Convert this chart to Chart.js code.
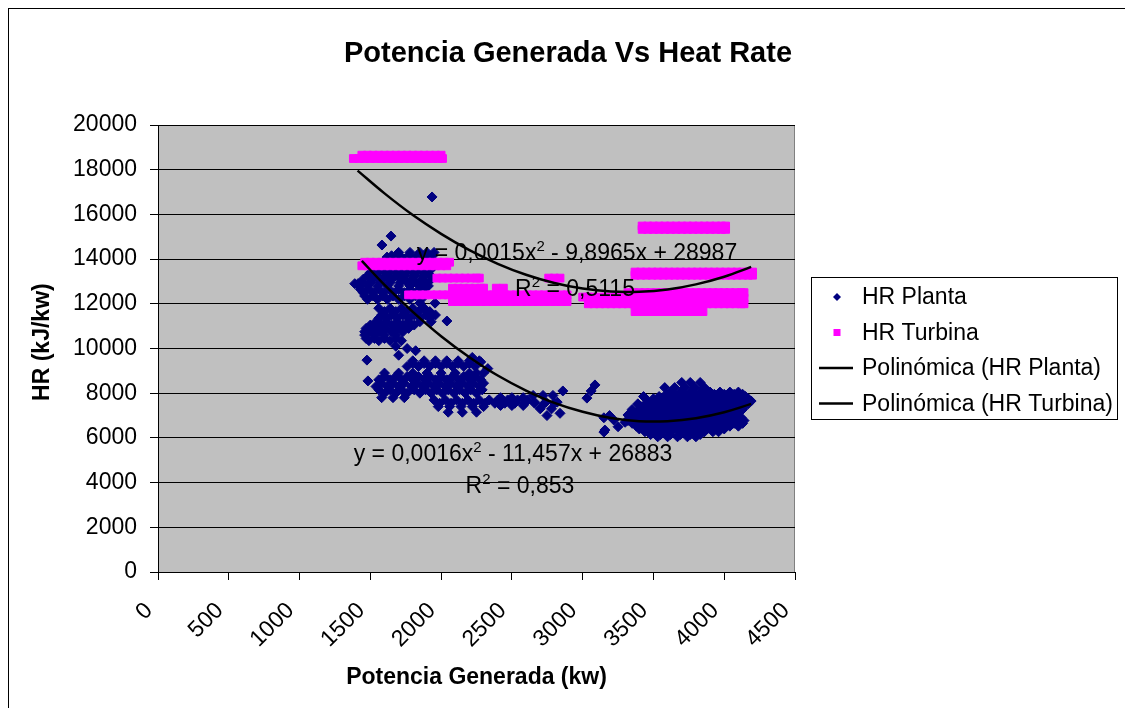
<!DOCTYPE html>
<html>
<head>
<meta charset="utf-8">
<title>Potencia Generada Vs Heat Rate</title>
<script src="https://cdn.jsdelivr.net/npm/chart.js@4.4.0/dist/chart.umd.min.js"></script>
<style>
  body { margin: 0; background: #fff; }
  #wrap { width: 1125px; height: 708px; }
</style>
</head>
<body>
<div id="wrap"><canvas id="myChart" width="1125" height="708"></canvas></div>
<script>
// HR Planta: rows of [HR (kJ/kw), [potencia (kw) ...]]
var plantaRows = [
  [16780, [1936]],
  [15030, [1646]],
  [14630, [1582]],
  [14300, [1700, 1780, 1850, 1900, 1950]],
  [14150, [1650, 1710, 1770, 1830, 1890, 1940]],
  [14090, [1618]],
  [14000, [1620, 1680, 1740, 1800, 1860, 1920]],
  [13850, [1590, 1650, 1720, 1790, 1850, 1920]],
  [13700, [1560, 1620, 1690, 1750, 1820, 1890, 1950]],
  [13550, [1530, 1590, 1660, 1730, 1790, 1860, 1930]],
  [13400, [1500, 1560, 1630, 1700, 1760, 1830, 1900]],
  [13290, [1921]],
  [13250, [1480, 1540, 1610, 1680, 1740, 1810, 1880]],
  [13100, [1450, 1520, 1590, 1650, 1720, 1790, 1860, 1930]],
  [12950, [1440, 1500, 1570, 1640, 1710, 1760, 1820, 1890]],
  [12900, [1390, 1413]],
  [12800, [1420, 1480, 1550, 1620, 1700, 1780, 1850, 1910]],
  [12650, [1430, 1490, 1560, 1630, 1700, 1780, 1860]],
  [12500, [1450, 1520, 1590, 1660, 1740, 1820, 1890]],
  [12350, [1460, 1520, 1590, 1660, 1740, 1820]],
  [12200, [1480, 1550, 1620, 1700, 1780, 1860]],
  [12030, [1850, 1957]],
  [11800, [1560, 1640, 1720, 1800, 1880]],
  [11650, [1600, 1680, 1760, 1840, 1920]],
  [11500, [1580, 1650, 1730, 1810, 1890, 1960]],
  [11350, [1560, 1620, 1690, 1770, 1850, 1920]],
  [11230, [2041]],
  [11200, [1540, 1610, 1690, 1770, 1850, 1930]],
  [11050, [1500, 1580, 1650, 1730, 1810]],
  [10900, [1470, 1540, 1610, 1690, 1770]],
  [10750, [1460, 1500, 1570, 1650, 1730]],
  [10600, [1460, 1530, 1600, 1680]],
  [10450, [1470, 1530, 1600, 1680]],
  [10350, [1490, 1560, 1640, 1720]],
  [10100, [1680]],
  [10000, [1760]],
  [9900, [1820]],
  [9700, [1700]],
  [9600, [2220]],
  [9480, [1476]],
  [9450, [1800, 1880, 1960, 2040, 2120, 2200, 2270]],
  [9400, [2280]],
  [9330, [1800, 1880, 1960, 2040, 2120, 2200]],
  [9200, [1760, 1840, 1920, 2000, 2080, 2160, 2240]],
  [9100, [2330]],
  [8900, [1600, 1700, 1800, 1900, 2000, 2100, 2200, 2250, 2300]],
  [8750, [1600, 1680, 1760, 1840, 1920, 2000, 2080, 2160, 2240]],
  [8600, [1560, 1640, 1720, 1800, 1880, 1960, 2040, 2120, 2200, 2280]],
  [8550, [1483]],
  [8450, [1580, 1660, 1740, 1830, 1910, 1990, 2070, 2150, 2230, 2300]],
  [8370, [3087]],
  [8300, [1540, 1620, 1700, 1790, 1870, 1950, 2030, 2110, 2190, 2270]],
  [8150, [1560, 1640, 1720, 1810, 1890, 1970, 2050, 2130, 2210, 2290]],
  [8100, [2860, 3060]],
  [8000, [1600, 1680, 1760, 1850, 1930, 2010, 2090, 2170, 2250]],
  [7900, [2650, 2720, 2790]],
  [7800, [1580, 1660, 1740, 2420, 2500, 2580]],
  [7780, [3030]],
  [7700, [1950, 2030, 2110, 2190, 2270, 2340, 2400, 2470, 2540, 2610]],
  [7600, [2660, 2740, 2820]],
  [7550, [1990, 2070, 2150, 2230, 2310, 2380, 2450, 2520, 2590, 2660, 2730, 2800]],
  [7450, [2420, 2500, 2580]],
  [7400, [1980, 2060, 2140, 2220, 2300]],
  [7300, [2700, 2780]],
  [7150, [2050, 2150, 2250]],
  [7100, [2840]],
  [7000, [2748, 3190]],
  [6900, [3150]],
  [6800, [3220]],
  [6700, [3300]],
  [6500, [3250]],
  [6350, [3157]],
  [6260, [3150]],
  [8480, [3700, 3760, 3830]],
  [8250, [3580, 3650, 3720, 3790, 3860]],
  [8050, [3620, 3690, 3760, 3830, 3900, 3970, 4040, 4100]],
  [7950, [3590, 3650, 3720, 3790, 3860, 3930, 4000, 4070, 4130]],
  [7850, [3430, 3540, 3600, 3660, 3720, 3780, 3840, 3900, 3960, 4020, 4080, 4150]],
  [7750, [3500, 3560, 3620, 3680, 3740, 3800, 3860, 3920, 3980, 4040, 4100, 4170]],
  [7650, [3460, 3520, 3580, 3640, 3700, 3760, 3820, 3880, 3940, 4000, 4060, 4120, 4190]],
  [7525, [3390, 3450, 3510, 3570, 3630, 3690, 3750, 3810, 3870, 3930, 3990, 4050, 4110, 4170]],
  [7400, [3420, 3480, 3540, 3600, 3660, 3720, 3780, 3840, 3900, 3960, 4020, 4080, 4140]],
  [7275, [3350, 3410, 3470, 3530, 3590, 3650, 3710, 3770, 3830, 3890, 3950, 4010, 4070, 4130]],
  [7150, [3380, 3440, 3500, 3560, 3620, 3680, 3740, 3800, 3860, 3920, 3980, 4040, 4100]],
  [7025, [3320, 3380, 3440, 3500, 3560, 3620, 3680, 3740, 3800, 3860, 3920, 3980, 4040, 4100]],
  [6900, [3340, 3400, 3460, 3520, 3580, 3640, 3700, 3760, 3820, 3880, 3940, 4000, 4060, 4120]],
  [6775, [3320, 3380, 3440, 3500, 3560, 3620, 3680, 3740, 3800, 3860, 3920, 3980, 4040, 4100, 4140]],
  [6650, [3350, 3410, 3470, 3530, 3590, 3650, 3710, 3770, 3830, 3890, 3950, 4010, 4070, 4130]],
  [6525, [3380, 3440, 3500, 3560, 3620, 3680, 3740, 3800, 3860, 3920, 3980, 4040, 4100]],
  [6400, [3400, 3460, 3520, 3580, 3640, 3700, 3760, 3820, 3880, 3940, 4000]],
  [6275, [3440, 3500, 3560, 3620, 3680, 3740, 3800, 3860, 3920, 3960]],
  [6150, [3480, 3550, 3620, 3690, 3760, 3830]],
  [6050, [3530, 3600, 3670, 3740, 3800]]
];

// HR Turbina: same layout
var turbinaRows = [
  [18650, [1440, 1480, 1520, 1560, 1600, 1640, 1680, 1720, 1760, 1800, 1840, 1880, 1920, 1960, 2000]],
  [18500, [1380, 1420, 1460, 1500, 1540, 1580, 1620, 1660, 1700, 1740, 1780, 1820, 1860, 1900, 1940, 1980, 2010]],
  [15480, [3420, 3460, 3500, 3540, 3580, 3620, 3660, 3700, 3740, 3780, 3820, 3860, 3900, 3940, 3980, 4010]],
  [15330, [3420, 3460, 3500, 3540, 3580, 3620, 3660, 3700, 3740, 3780, 3820, 3860, 3900, 3940, 3980, 4010]],
  [13860, [1460, 1500, 1540, 1580, 1620, 1660, 1700, 1740, 1780, 1820, 1860, 1900, 1940, 1980, 2020, 2060]],
  [13700, [1440, 1480, 1520, 1560, 1600, 1640, 1680, 1720, 1760, 1800, 1840, 1880, 1920, 1960, 2000, 2040]],
  [13420, [3370, 3410, 3450, 3490, 3530, 3570, 3610, 3650, 3690, 3730, 3770, 3810, 3850, 3890, 3930, 3970, 4010, 4050, 4090, 4130, 4170, 4200]],
  [13280, [3370, 3410, 3450, 3490, 3530, 3570, 3610, 3650, 3690, 3730, 3770, 3810, 3850, 3890, 3930, 3970, 4010, 4050, 4090, 4130, 4170, 4200]],
  [13150, [1970, 2010, 2050, 2090, 2130, 2170, 2210, 2250, 2270, 2760, 2800, 2840]],
  [12700, [2080, 2120, 2160, 2200, 2240, 2280, 2300, 2390, 2440]],
  [12500, [3320, 3360, 3400, 3440, 3480, 3520, 3560, 3600, 3640, 3680, 3720, 3760, 3800, 3840, 3880, 3920, 3960, 4000, 4040, 4080, 4120, 4140]],
  [12400, [1770, 1810, 1850, 1890, 1930, 1970, 2010, 2050, 2090, 2130, 2170, 2210, 2250, 2290, 2330, 2370, 2410, 2450, 2490, 2530, 2570, 2610, 2650, 2690, 2730, 2770, 2810, 2850, 2890]],
  [12300, [3000, 3040, 3080, 3120, 3160, 3200, 3240, 3280, 3330]],
  [12250, [3320, 3360, 3400, 3440, 3480, 3520, 3560, 3600, 3640, 3680, 3720, 3760, 3800, 3840, 3880, 3920, 3960, 4000, 4040, 4080, 4120, 4140]],
  [12100, [2080, 2120, 2160, 2200, 2240, 2280, 2320, 2370, 2410, 2450, 2490, 2530, 2570, 2610, 2650, 2690, 2730, 2770, 2810, 2850, 2890]],
  [12000, [3040, 3080, 3120, 3160, 3200, 3240, 3280, 3320, 3360, 3400, 3440, 3480, 3520, 3560, 3600, 3640, 3680, 3720, 3760, 3800, 3840, 3880, 3920, 3960, 4000, 4040, 4080, 4120, 4140]],
  [11650, [3370, 3410, 3450, 3490, 3530, 3570, 3610, 3650, 3690, 3730, 3770, 3810, 3850]]
];

// trend lines
var trendPlantaX = [1440, 1600, 1800, 2000, 2200, 2400, 2600, 2800, 3000, 3200, 3400, 3600, 3800, 4000, 4190];
var trendPlantaY = [13920, 12850, 11640, 10550, 9610, 8790, 8120, 7570, 7170, 6890, 6750, 6750, 6880, 7150, 7520];
var trendTurbinaX = [1410, 1600, 1800, 2000, 2200, 2400, 2600, 2800, 3000, 3200, 3400, 3600, 3800, 4000, 4190];
var trendTurbinaY = [17960, 16940, 15970, 15130, 14400, 13790, 13300, 12930, 12680, 12550, 12540, 12640, 12870, 13210, 13650];

var xTicks = [0, 500, 1000, 1500, 2000, 2500, 3000, 3500, 4000, 4500];
var yTicks = [0, 2000, 4000, 6000, 8000, 10000, 12000, 14000, 16000, 18000, 20000];

var seriesNames = ['HR Planta', 'HR Turbina', 'Polinómica (HR Planta)', 'Polinómica (HR Turbina)'];

function rowsToPoints(rows) {
  var pts = [];
  rows.forEach(function (r) {
    r[1].forEach(function (x) { pts.push({ x: x, y: r[0] }); });
  });
  return pts;
}
function zipXY(xs, ys) {
  return xs.map(function (x, i) { return { x: x, y: ys[i] }; });
}

var FONT = '"Liberation Sans", Arial, sans-serif';
var NAVY = '#000080';
var PINK = '#ff00ff';

function supLine(ctx, a, sup, b, cx, y) {
  ctx.font = '23px ' + FONT;
  var wa = ctx.measureText(a).width, wb = ctx.measureText(b).width;
  ctx.font = '15px ' + FONT;
  var ws = ctx.measureText(sup).width;
  var x0 = cx - (wa + ws + wb) / 2;
  ctx.textAlign = 'left';
  ctx.textBaseline = 'alphabetic';
  ctx.font = '23px ' + FONT;
  ctx.fillText(a, x0, y);
  ctx.font = '15px ' + FONT;
  ctx.fillText(sup, x0 + wa, y - 9);
  ctx.font = '23px ' + FONT;
  ctx.fillText(b, x0 + wa + ws, y);
}

var excelLook = {
  id: 'excelLook',
  beforeDraw: function (chart) {
    var ctx = chart.ctx, a = chart.chartArea;
    ctx.save();
    ctx.fillStyle = '#fff';
    ctx.fillRect(0, 0, chart.width, chart.height);
    ctx.strokeStyle = '#000';
    ctx.lineWidth = 1;
    ctx.strokeRect(8.5, 8.5, chart.width + 20, chart.height + 20);
    ctx.fillStyle = '#c0c0c0';
    ctx.fillRect(a.left, a.top, a.right - a.left, a.bottom - a.top);
    ctx.strokeStyle = '#808080';
    ctx.strokeRect(a.left + 0.5, a.top + 0.5, a.right - a.left - 1, a.bottom - a.top);
    ctx.restore();
  },
  afterDatasetsDraw: function (chart) {
    var ctx = chart.ctx, sx = chart.scales.x, sy = chart.scales.y;
    ctx.save();
    ctx.fillStyle = '#000';
    supLine(ctx, 'y = 0,0015x', '2', ' - 9,8965x + 28987', sx.getPixelForValue(2960), sy.getPixelForValue(13960));
    supLine(ctx, 'R', '2', ' = 0,5115', sx.getPixelForValue(2946), sy.getPixelForValue(12350));
    supLine(ctx, 'y = 0,0016x', '2', ' - 11,457x + 26883', sx.getPixelForValue(2508), sy.getPixelForValue(4966));
    supLine(ctx, 'R', '2', ' = 0,853', sx.getPixelForValue(2557), sy.getPixelForValue(3534));
    ctx.restore();
  },
  afterDraw: function (chart) {
    var ctx = chart.ctx;
    ctx.save();
    // title
    ctx.fillStyle = '#000';
    ctx.font = 'bold 29px ' + FONT;
    ctx.textAlign = 'center';
    ctx.textBaseline = 'alphabetic';
    ctx.fillText('Potencia Generada Vs Heat Rate', 568, 62);

    // legend
    ctx.fillStyle = '#fff';
    ctx.fillRect(811.5, 277.5, 306, 142);
    ctx.strokeStyle = '#000';
    ctx.lineWidth = 1;
    ctx.strokeRect(811.5, 277.5, 306, 142);
    var rows = [297, 332.5, 368, 403.5];
    ctx.font = '23px ' + FONT;
    ctx.textAlign = 'left';
    ctx.textBaseline = 'middle';
    for (var i = 0; i < seriesNames.length; i++) {
      var cy = rows[i];
      if (i === 0) {
        ctx.fillStyle = NAVY;
        ctx.beginPath();
        ctx.moveTo(837, cy - 4); ctx.lineTo(841, cy); ctx.lineTo(837, cy + 4); ctx.lineTo(833, cy);
        ctx.closePath(); ctx.fill();
      } else if (i === 1) {
        ctx.fillStyle = PINK;
        ctx.fillRect(833.5, cy - 3.5, 7, 7);
      } else {
        ctx.strokeStyle = '#000';
        ctx.lineWidth = 2.5;
        ctx.beginPath(); ctx.moveTo(819, cy); ctx.lineTo(853, cy); ctx.stroke();
      }
      ctx.fillStyle = '#000';
      ctx.fillText(seriesNames[i], 862, cy + 1);
    }
    ctx.restore();
  }
};

var ctx = document.getElementById('myChart');

var myChart = new Chart(ctx, {
  type: 'scatter',
  data: {
    datasets: [
      {
        label: seriesNames[0],
        data: rowsToPoints(plantaRows),
        pointStyle: 'rectRot',
        pointRadius: 5,
        backgroundColor: NAVY,
        borderColor: NAVY,
        borderWidth: 1,
        order: 3
      },
      {
        label: seriesNames[1],
        data: rowsToPoints(turbinaRows),
        pointStyle: 'rect',
        pointRadius: 5.5,
        backgroundColor: PINK,
        borderColor: PINK,
        borderWidth: 1,
        order: 2
      },
      {
        label: seriesNames[2],
        data: zipXY(trendPlantaX, trendPlantaY),
        showLine: true,
        pointRadius: 0,
        borderColor: '#000',
        borderWidth: 2.5,
        tension: 0.4,
        order: 1
      },
      {
        label: seriesNames[3],
        data: zipXY(trendTurbinaX, trendTurbinaY),
        showLine: true,
        pointRadius: 0,
        borderColor: '#000',
        borderWidth: 2.5,
        tension: 0.4,
        order: 0
      }
    ]
  },
  options: {
    responsive: false,
    animation: false,
    events: [],
    layout: { padding: { left: 20, top: 125, right: 330, bottom: 0 } },
    plugins: {
      legend: { display: false },
      tooltip: { enabled: false }
    },
    scales: {
      x: {
        type: 'linear',
        position: 'bottom',
        min: xTicks[0],
        max: xTicks[xTicks.length - 1],
        afterBuildTicks: function (s) { s.ticks = xTicks.map(function (v) { return { value: v }; }); },
        ticks: {
          autoSkip: false,
          maxRotation: 45,
          minRotation: 45,
          padding: 18,
          color: '#000',
          font: { family: FONT, size: 23, lineHeight: 0 },
          // two trailing spaces pull the slanted label back like Excel does
          callback: function (v) { return String(v) + '  '; }
        },
        grid: { drawOnChartArea: false, drawTicks: true, tickLength: 8, color: '#000' },
        border: { color: '#000', width: 1 },
        title: {
          display: true,
          text: 'Potencia Generada (kw)',
          color: '#000',
          font: { family: FONT, size: 23, weight: 'bold' },
          padding: { top: 0, bottom: 17 }
        },
        afterFit: function (s) { s.height = 136; }
      },
      y: {
        type: 'linear',
        min: yTicks[0],
        max: yTicks[yTicks.length - 1],
        afterBuildTicks: function (s) { s.ticks = yTicks.map(function (v) { return { value: v }; }); },
        ticks: {
          padding: 13,
          color: '#000',
          font: { family: FONT, size: 23 },
          callback: function (v) { return String(v); }
        },
        grid: { color: '#000', tickLength: 8, lineWidth: 1 },
        border: { color: '#000', width: 1 },
        title: {
          display: true,
          text: '  HR (kJ/kw)',
          color: '#000',
          font: { family: FONT, size: 23, weight: 'bold' },
          padding: { top: 9, bottom: 0 }
        },
        afterFit: function (s) { s.width = 138; }
      }
    }
  },
  plugins: [excelLook]
});
</script>
</body>
</html>
